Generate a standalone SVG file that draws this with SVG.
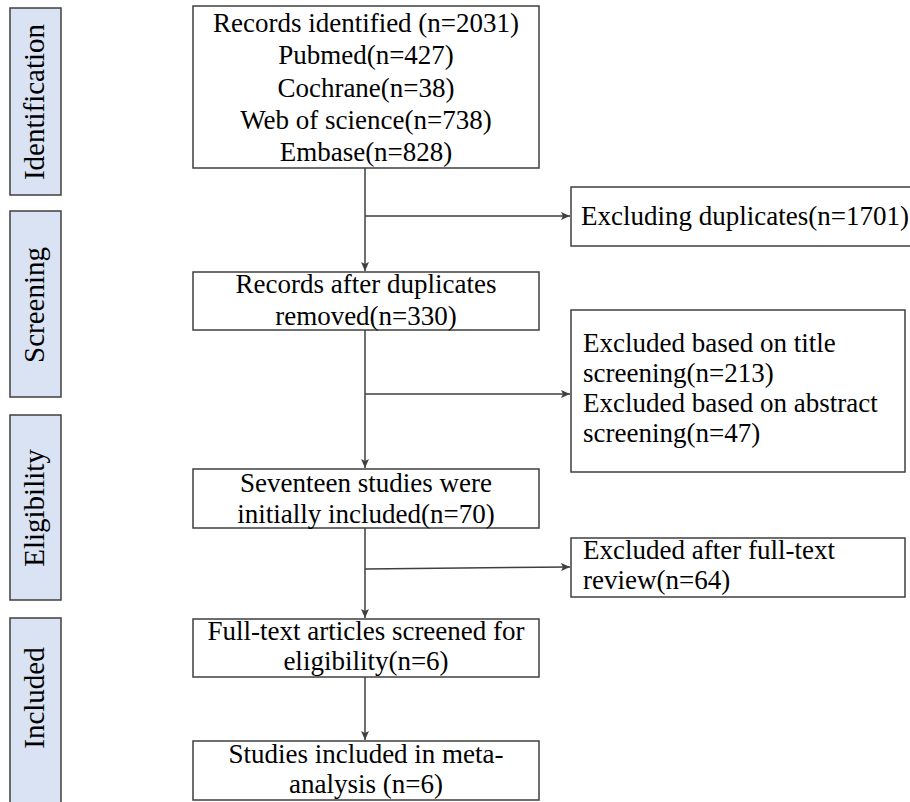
<svg xmlns="http://www.w3.org/2000/svg" width="910" height="802" viewBox="0 0 910 802">
<style>
.box{fill:#ffffff;stroke:#3f3f3f;stroke-width:1.5}
.side{fill:#dae3f3;stroke:#3f3f3f;stroke-width:1.5}
.t{font-family:"Liberation Serif","Times New Roman",serif;font-size:27px;fill:#000}
.c{text-anchor:middle}
.s{font-family:"Liberation Serif","Times New Roman",serif;font-size:29px;fill:#000;text-anchor:middle}
.ln{fill:none;stroke:#3f3f3f;stroke-width:1.5}
</style>
<defs>
<marker id="arr" markerWidth="10" markerHeight="8" refX="9" refY="4" orient="auto" markerUnits="userSpaceOnUse">
<path d="M0,0 L9,4 L0,8 L2,4 Z" fill="#3f3f3f"/>
</marker>
</defs>
<rect width="910" height="802" fill="#ffffff"/>
<g id="stage-identification">
<rect class="side" x="10" y="8" width="51" height="187"/>
<text class="s" transform="translate(44,102) rotate(-90)">Identification</text>
</g>
<g id="stage-screening">
<rect class="side" x="10" y="211" width="51" height="186"/>
<text class="s" transform="translate(44,305) rotate(-90)">Screening</text>
</g>
<g id="stage-eligibility">
<rect class="side" x="10" y="415" width="51" height="185"/>
<text class="s" transform="translate(44,508) rotate(-90)">Eligibility</text>
</g>
<g id="stage-included">
<rect class="side" x="10" y="618" width="51" height="200"/>
<text class="s" transform="translate(44,698) rotate(-90)">Included</text>
</g>
<g id="records-identified">
<rect class="box" x="193" y="6" width="346" height="162"/>
<text class="t c" x="366" y="32">Records identified (n=2031)</text>
<text class="t c" x="366" y="64">Pubmed(n=427)</text>
<text class="t c" x="366" y="97">Cochrane(n=38)</text>
<text class="t c" x="366" y="129">Web of science(n=738)</text>
<text class="t c" x="366" y="161">Embase(n=828)</text>
</g>
<g id="excluding-duplicates">
<rect class="box" x="571" y="187" width="350" height="59"/>
<text class="t" x="581" y="225">Excluding duplicates(n=1701)</text>
</g>
<g id="records-after-duplicates">
<rect class="box" x="193" y="272" width="346" height="58"/>
<text class="t c" x="366" y="293">Records after duplicates</text>
<text class="t c" x="366" y="325">removed(n=330)</text>
</g>
<g id="excluded-screening">
<rect class="box" x="571" y="310" width="334" height="162"/>
<text class="t" x="583" y="352">Excluded based on title</text>
<text class="t" x="583" y="382">screening(n=213)</text>
<text class="t" x="583" y="412">Excluded based on abstract</text>
<text class="t" x="583" y="442">screening(n=47)</text>
</g>
<g id="initially-included">
<rect class="box" x="193" y="469" width="346" height="59"/>
<text class="t c" x="366" y="492">Seventeen studies were</text>
<text class="t c" x="366" y="523">initially included(n=70)</text>
</g>
<g id="excluded-fulltext">
<rect class="box" x="571" y="538" width="334" height="59"/>
<text class="t" x="583" y="559">Excluded after full-text</text>
<text class="t" x="583" y="589">review(n=64)</text>
</g>
<g id="fulltext-screened">
<rect class="box" x="193" y="619" width="346" height="58"/>
<text class="t c" x="366" y="640">Full-text articles screened for</text>
<text class="t c" x="366" y="670">eligibility(n=6)</text>
</g>
<g id="studies-included">
<rect class="box" x="193" y="741" width="346" height="59"/>
<text class="t c" x="366" y="763">Studies included in meta-</text>
<text class="t c" x="366" y="793">analysis (n=6)</text>
</g>
<g id="connectors">
<line class="ln" x1="365" y1="168" x2="365" y2="271" marker-end="url(#arr)"/>
<line class="ln" x1="365" y1="216" x2="570" y2="216" marker-end="url(#arr)"/>
<line class="ln" x1="365" y1="330" x2="365" y2="468" marker-end="url(#arr)"/>
<line class="ln" x1="365" y1="394" x2="570" y2="394" marker-end="url(#arr)"/>
<line class="ln" x1="365" y1="528" x2="365" y2="618" marker-end="url(#arr)"/>
<line class="ln" x1="365" y1="569" x2="570" y2="567" marker-end="url(#arr)"/>
<line class="ln" x1="365" y1="677" x2="365" y2="740" marker-end="url(#arr)"/>
</g>
</svg>
